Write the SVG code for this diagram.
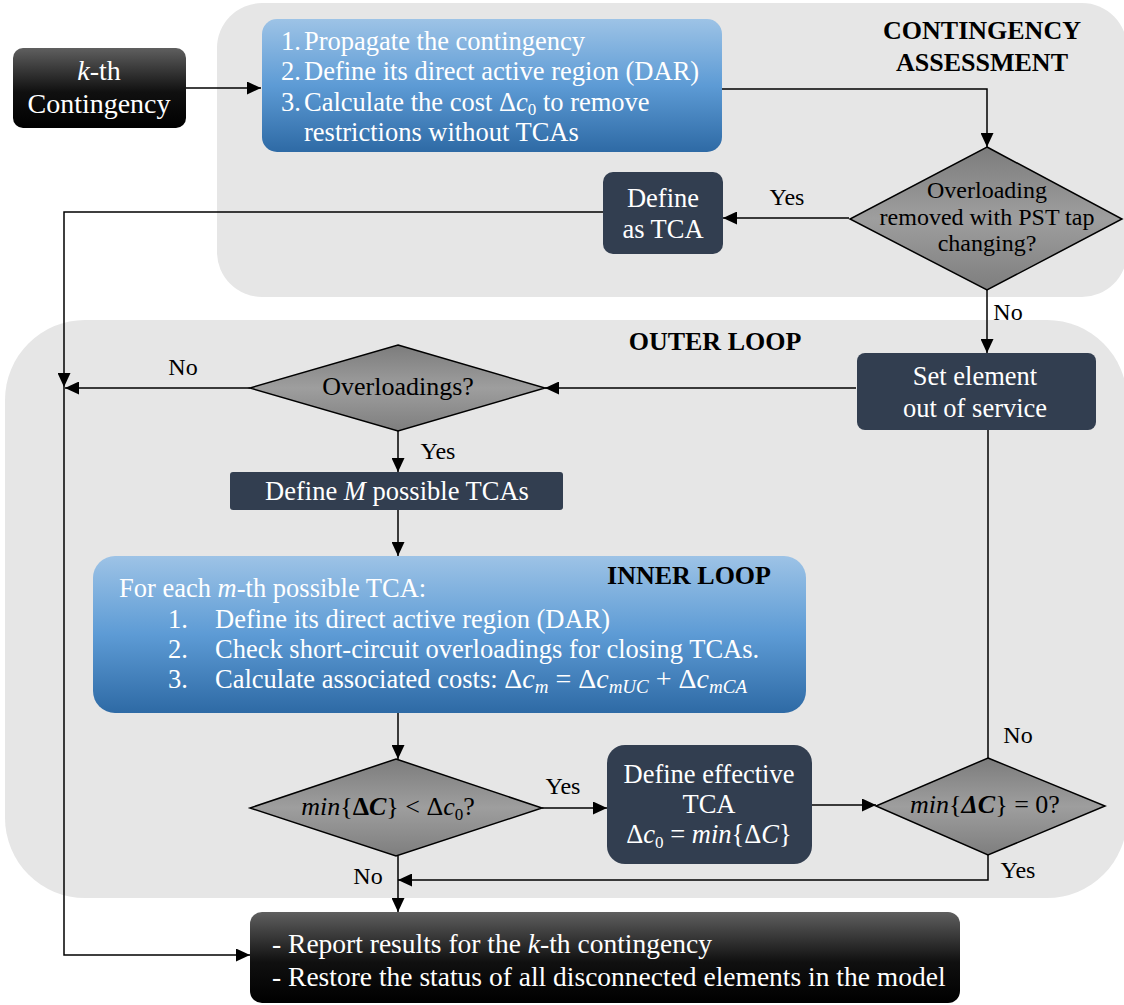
<svg xmlns="http://www.w3.org/2000/svg" width="1124" height="1005" viewBox="0 0 1124 1005">
<defs>
<linearGradient id="gBlue" x1="0" y1="0" x2="0" y2="1">
<stop offset="0" stop-color="#9dc3e6"/><stop offset="0.5" stop-color="#5d9bd5"/><stop offset="1" stop-color="#2e6aa5"/>
</linearGradient>
<linearGradient id="gBlack" x1="0" y1="0" x2="0" y2="1">
<stop offset="0" stop-color="#5f5f5f"/><stop offset="0.55" stop-color="#101010"/><stop offset="1" stop-color="#000"/>
</linearGradient>
<linearGradient id="gGray" x1="0" y1="0" x2="0" y2="1">
<stop offset="0" stop-color="#7c7c7c"/><stop offset="0.5" stop-color="#9e9e9e"/><stop offset="1" stop-color="#7e7e7e"/>
</linearGradient>
<marker id="ar" markerUnits="userSpaceOnUse" markerWidth="14" markerHeight="13" refX="14" refY="6.5" orient="auto">
<path d="M0,0 L14,6.5 L0,13 Z" fill="#000"/>
</marker>
<style>
text{font-family:"Liberation Serif","Times New Roman",serif;}
.region{fill:#e6e6e6;}
.dark{fill:#323e50;}
.blk{fill:url(#gBlack);}
.blue{fill:url(#gBlue);}
.dia{fill:url(#gGray);stroke:#000;stroke-width:1.5;}
.w{fill:#fff;font-size:26.5px;}
.t{fill:#000;font-size:24px;}
.hd{fill:#000;font-size:26px;font-weight:bold;}
.lbl{fill:#000;font-size:24px;}
.c{text-anchor:middle;}
.i{font-style:italic;}
.b{font-weight:bold;}
.sub{font-size:17px;}
.ln{fill:none;stroke:#000;stroke-width:1.5;}
.la{fill:none;stroke:#000;stroke-width:1.5;marker-end:url(#ar);}
</style>
</defs>

<g id="regions">
<rect id="contingency-assessment" class="region" x="217" y="3" width="910" height="294" rx="45"/>
<rect id="outer-loop" class="region" x="5" y="320" width="1122" height="578" rx="80"/>
<text class="hd c" x="982" y="39">CONTINGENCY</text>
<text class="hd c" x="982" y="71">ASSESSMENT</text>
<text class="hd c" x="715" y="350">OUTER LOOP</text>
</g>

<g id="connectors">
<path class="la" d="M186,88 H261"/>
<path class="la" d="M722,89 H987 V147"/>
<path class="la" d="M849,218 H723"/>
<path class="la" d="M603,212 H64 V387"/>
<path class="la" d="M64,387 V955 H250"/>
<path class="la" d="M250,388 H65"/>
<path class="la" d="M987,290 V353"/>
<path class="la" d="M856,388 H545"/>
<path class="la" d="M398,430 V472"/>
<path class="la" d="M398,510 V556"/>
<path class="la" d="M398,713 V759"/>
<path class="la" d="M542,808 H607"/>
<path class="la" d="M811,805 H876"/>
<path class="ln" d="M988,430 V758"/>
<path class="la" d="M988,855 V880 H398"/>
<path class="la" d="M398,856 V912"/>
<text class="lbl c" x="787" y="205">Yes</text>
<text class="lbl c" x="183" y="375">No</text>
<text class="lbl c" x="1008" y="320">No</text>
<text class="lbl c" x="438" y="459">Yes</text>
<text class="lbl c" x="1018" y="743">No</text>
<text class="lbl c" x="563" y="794">Yes</text>
<text class="lbl c" x="368" y="884">No</text>
<text class="lbl c" x="1018" y="878">Yes</text>
</g>

<g id="node-kth">
<rect class="blk" x="13" y="48" width="173" height="80" rx="10"/>
<text class="w c" x="99" y="80" style="font-size:28px"><tspan class="i">k</tspan>-th</text>
<text class="w c" x="99" y="113" style="font-size:28px">Contingency</text>
</g>

<g id="node-propagate">
<rect class="blue" x="262" y="19" width="460" height="133" rx="15"/>
<text class="w" x="281" y="50">1.</text><text class="w" x="304" y="50">Propagate the contingency</text>
<text class="w" x="281" y="80">2.</text><text class="w" x="304" y="80">Define its direct active region (DAR)</text>
<text class="w" x="281" y="111">3.</text><text class="w" x="304" y="111">Calculate the cost Δ<tspan class="i">c</tspan><tspan class="sub" dy="4">0</tspan><tspan dy="-4"> to remove</tspan></text>
<text class="w" x="304" y="141">restrictions without TCAs</text>
</g>

<g id="node-pst">
<polygon class="dia" points="987,147 1122,219 987,290 850,219"/>
<text class="t c" x="987" y="198">Overloading</text>
<text class="t c" x="987" y="225">removed with PST tap</text>
<text class="t c" x="987" y="251">changing?</text>
</g>

<g id="node-define-tca">
<rect class="dark" x="603" y="172" width="120" height="82" rx="10"/>
<text class="w c" x="663" y="207">Define</text>
<text class="w c" x="663" y="238">as TCA</text>
</g>

<g id="node-overloadings">
<polygon class="dia" points="398,345 545,388 398,431 250,388"/>
<text class="t c" x="398" y="395" style="font-size:26px">Overloadings?</text>
</g>

<g id="node-set-element">
<rect class="dark" x="857" y="353" width="239" height="77" rx="8"/>
<text class="w c" x="975" y="385">Set element</text>
<text class="w c" x="975" y="417">out of service</text>
</g>

<g id="node-define-m">
<rect class="dark" x="230" y="472" width="333" height="38" rx="3"/>
<text class="w c" x="397" y="500">Define <tspan class="i">M</tspan> possible TCAs</text>
</g>

<g id="node-inner-loop">
<rect class="blue" x="93" y="556" width="713" height="157" rx="22"/>
<text class="hd c" x="689" y="584">INNER LOOP</text>
<text class="w" x="119" y="597">For each <tspan class="i">m</tspan>-th possible TCA:</text>
<text class="w" x="168" y="628">1.</text><text class="w" x="215" y="628">Define its direct active region (DAR)</text>
<text class="w" x="168" y="658">2.</text><text class="w" x="215" y="658">Check short-circuit overloadings for closing TCAs.</text>
<text class="w" x="168" y="688">3.</text><text class="w" x="215" y="688">Calculate associated costs: <tspan style="font-size:28px">Δ</tspan><tspan class="i" style="font-size:28px">c</tspan><tspan class="i" dy="5" style="font-size:19px">m</tspan><tspan dy="-5" style="font-size:28px"> = Δ</tspan><tspan class="i" style="font-size:28px">c</tspan><tspan class="i" dy="5" style="font-size:19px">mUC</tspan><tspan dy="-5" style="font-size:28px"> + Δ</tspan><tspan class="i" style="font-size:28px">c</tspan><tspan class="i" dy="5" style="font-size:19px">mCA</tspan></text>
</g>

<g id="node-min-lt">
<polygon class="dia" points="396,759 542,808 396,856 250,808"/>
<text class="t c" x="388" y="815" style="font-size:26px"><tspan class="i">min</tspan>{<tspan class="b">Δ</tspan><tspan class="b i">C</tspan>} &lt; Δ<tspan class="i">c</tspan><tspan class="sub" dy="5">0</tspan><tspan dy="-5">?</tspan></text>
</g>

<g id="node-define-effective">
<rect class="dark" x="607" y="745" width="205" height="119" rx="18"/>
<text class="w c" x="709" y="783">Define effective</text>
<text class="w c" x="709" y="813">TCA</text>
<text class="w c" x="709" y="843">Δ<tspan class="i">c</tspan><tspan class="sub" dy="5">0</tspan><tspan dy="-5"> = </tspan><tspan class="i">min</tspan>{Δ<tspan class="i">C</tspan>}</text>
</g>

<g id="node-min-eq">
<polygon class="dia" points="988,758 1105,806 988,855 876,806"/>
<text class="t c" x="985" y="813" style="font-size:26px"><tspan class="i">min</tspan>{<tspan class="b i">ΔC</tspan>} = 0?</text>
</g>

<g id="node-report">
<rect class="blk" x="250" y="912" width="710" height="91" rx="12"/>
<text class="w" x="272" y="953" style="font-size:27.5px">- Report results for the <tspan class="i">k</tspan>-th contingency</text>
<text class="w" x="272" y="986" style="font-size:27.5px">- Restore the status of all disconnected elements in the model</text>
</g>
</svg>
